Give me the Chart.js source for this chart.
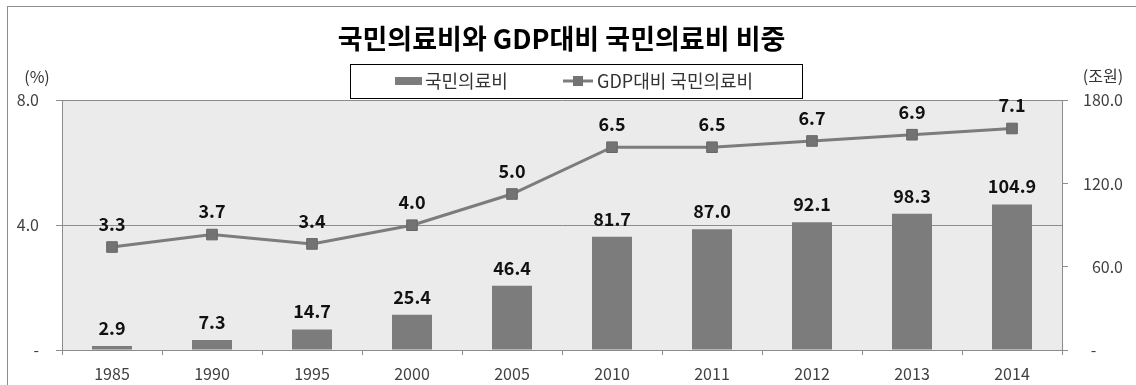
<!DOCTYPE html>
<html>
<head>
<meta charset="utf-8">
<script src="https://cdn.jsdelivr.net/npm/chart.js@4.4.1/dist/chart.umd.min.js"></script>
<style>
    html, body { margin: 0; padding: 0; background: #fff; }
</style>
</head>
<body>
<canvas id="chart" width="1136" height="385"></canvas>
<script>
// data
var years = ['1985', '1990', '1995', '2000', '2005', '2010', '2011', '2012', '2013', '2014'];
var spending = [2.9, 7.3, 14.7, 25.4, 46.4, 81.7, 87.0, 92.1, 98.3, 104.9];   // 조원
var gdpShare = [3.3, 3.7, 3.4, 4.0, 5.0, 6.5, 6.5, 6.7, 6.9, 7.1];          // %
var leftTicks = [0, 4, 8];
var rightTicks = [0, 60, 120, 180];

var FONT = "'Noto Sans CJK KR', 'Noto Sans', sans-serif";
var GRAY = '#7c7c7c';

function fmt(v) {
    return v == 0 ? '-' : v.toFixed(1);
}

// right axis shows its zero dash further left (excel accounting style)
function fmtRight(v) {
    return v == 0 ? '-\u2007\u2007\u2007' : v.toFixed(1);
}

// plot background + outer frame
var backgroundPlugin = {
    id: 'background',
    beforeDraw: function (chart) {
        var ctx = chart.ctx, a = chart.chartArea;
        ctx.save();
        ctx.fillStyle = '#fff';
        ctx.fillRect(0, 0, chart.width, chart.height);
        ctx.strokeStyle = '#8c8c8c';
        ctx.lineWidth = 1;
        ctx.strokeRect(7.5, 6.5, chart.width + 10, chart.height + 10);
        ctx.fillStyle = '#ebebeb';
        ctx.fillRect(a.left, a.top, a.right - a.left, a.bottom - a.top);
        ctx.restore();
    }
};

// value labels above bars and points
var valueLabelPlugin = {
    id: 'valueLabels',
    afterDatasetsDraw: function (chart) {
        var ctx = chart.ctx;
        ctx.save();
        ctx.font = 'bold 18px ' + FONT;
        ctx.fillStyle = '#111';
        ctx.textAlign = 'center';
        ctx.textBaseline = 'middle';
        chart.data.datasets.forEach(function (ds, i) {
            var meta = chart.getDatasetMeta(i);
            var off = ds.type == 'line' ? 23 : 18;
            meta.data.forEach(function (el, j) {
                ctx.fillText(ds.data[j].toFixed(1), el.x, el.y - off);
            });
        });
        ctx.restore();
    }
};

// boxed legend and the unit labels above the axes
var legendPlugin = {
    id: 'boxLegend',
    afterDraw: function (chart) {
        var ctx = chart.ctx;
        var ds = chart.data.datasets;
        var cx = chart.width / 2 + 8;
        var left = cx - 226, top = 64;
        ctx.save();
        ctx.strokeStyle = '#000';
        ctx.lineWidth = 1;
        ctx.strokeRect(left + 0.5, top + 0.5, 452, 34);

        ctx.font = '18px ' + FONT;
        ctx.fillStyle = '#333';
        ctx.textBaseline = 'middle';
        ctx.textAlign = 'left';
        var y = top + 17;

        // bar item
        ctx.fillStyle = ds[0].backgroundColor;
        ctx.fillRect(left + 45, y - 4, 27, 8);
        ctx.fillStyle = '#333';
        ctx.fillText(ds[0].label, left + 75, y);

        // line item
        ctx.strokeStyle = ds[1].borderColor;
        ctx.lineWidth = 3;
        ctx.beginPath();
        ctx.moveTo(left + 213, y);
        ctx.lineTo(left + 243, y);
        ctx.stroke();
        ctx.fillStyle = ds[1].pointBackgroundColor;
        ctx.fillRect(left + 223, y - 5, 10, 10);
        ctx.fillStyle = '#333';
        ctx.fillText(ds[1].label, left + 247, y);

        // axis units
        ctx.font = '16px ' + FONT;
        ctx.textAlign = 'center';
        ctx.fillText('(%)', 37, 77);
        ctx.fillText('(조원)', 1103, 76);
        ctx.restore();
    }
};

var ctx = document.getElementById('chart');
var myChart = new Chart(ctx, {
    data: {
        labels: years,
        datasets: [{
            type: 'bar',
            label: '국민의료비',
            data: spending,
            yAxisID: 'y1',
            backgroundColor: GRAY,
            barPercentage: 0.4,
            categoryPercentage: 1,
            order: 2
        }, {
            type: 'line',
            label: 'GDP대비 국민의료비',
            data: gdpShare,
            yAxisID: 'y',
            borderColor: GRAY,
            borderWidth: 3,
            pointStyle: 'rect',
            pointRadius: 7.5,
            pointBackgroundColor: '#737373',
            pointBorderColor: '#666',
            pointBorderWidth: 1,
            tension: 0,
            order: 1
        }]
    },
    plugins: [backgroundPlugin, valueLabelPlugin, legendPlugin],
    options: {
        responsive: false,
        animation: false,
        devicePixelRatio: 1,
        layout: {
            padding: { left: 0, right: 13, top: 0, bottom: 0 }
        },
        plugins: {
            legend: { display: false },
            tooltip: { enabled: false },
            title: {
                display: true,
                text: '국민의료비와 GDP대비 국민의료비 비중',
                color: '#000',
                font: { family: FONT, size: 27, weight: 'bold', lineHeight: 1.2 },
                padding: { top: 23, bottom: 45 }
            }
        },
        scales: {
            x: {
                offset: true,
                grid: {
                    offset: true,
                    drawOnChartArea: false,
                    tickLength: 5,
                    color: '#8c8c8c'
                },
                border: { display: true, color: '#8c8c8c' },
                ticks: {
                    color: '#404040',
                    padding: 9,
                    font: { family: FONT, size: 16 }
                },
                afterFit: function (scale) { scale.height = 35; }
            },
            y: {
                position: 'left',
                min: 0,
                max: 8,
                afterBuildTicks: function (scale) {
                    scale.ticks = leftTicks.map(function (v) { return { value: v }; });
                },
                grid: {
                    color: '#8c8c8c',
                    tickLength: 6
                },
                border: { display: true, color: '#8c8c8c' },
                ticks: {
                    color: '#404040',
                    padding: 17,
                    font: { family: FONT, size: 16 },
                    callback: fmt
                },
                afterFit: function (scale) { scale.width = 62; }
            },
            y1: {
                position: 'right',
                min: 0,
                max: 180,
                afterBuildTicks: function (scale) {
                    scale.ticks = rightTicks.map(function (v) { return { value: v }; });
                },
                grid: {
                    drawOnChartArea: false,
                    color: '#8c8c8c',
                    tickLength: 6
                },
                border: { display: true, color: '#8c8c8c' },
                ticks: {
                    color: '#404040',
                    padding: 5,
                    crossAlign: 'far',
                    font: { family: FONT, size: 16 },
                    callback: fmtRight
                },
                afterFit: function (scale) { scale.width = 61; }
            }
        }
    }
});
</script>
</body>
</html>
